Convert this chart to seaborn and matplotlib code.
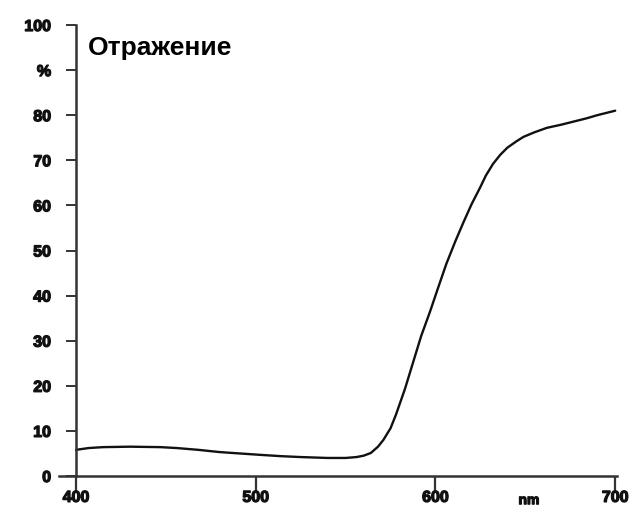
import matplotlib
matplotlib.use("Agg")
import matplotlib.pyplot as plt
import matplotlib.transforms as mtransforms
import matplotlib.patheffects as pe
import seaborn as sns
import pandas as pd

wavelength = [400, 407, 415, 430, 447, 456, 468, 480, 491, 502, 514, 525, 540, 550,
              556, 560, 564, 568, 571, 575, 578, 583, 588, 592, 597, 601, 606,
              611, 615.5, 620, 625, 628, 632, 636, 640, 645, 649, 655, 662, 670,
              677, 684, 690, 700]
reflectance = [5.8, 6.2, 6.4, 6.5, 6.4, 6.2, 5.8, 5.3, 5.0, 4.7, 4.4, 4.2, 4.0, 4.0,
               4.2, 4.5, 5.1, 6.5, 8.0, 10.6, 13.6, 19.3, 25.8, 31.0, 36.5, 41.2, 47.0,
               52.0, 56.2, 60.2, 64.1, 66.6, 69.2, 71.2, 72.8, 74.2, 75.2, 76.2, 77.2, 77.9,
               78.6, 79.3, 80.0, 81.0]
x_ticks = [400, 500, 600, 700]
x_tick_labels = ["400", "500", "600", "700"]
y_ticks = [0, 10, 20, 30, 40, 50, 60, 70, 80, 90, 100]
y_tick_labels = ["0", "10", "20", "30", "40", "50", "60", "70", "80", "%", "100"]
title_text = "Отражение"
unit_text = "nm"

sns.set_style("ticks")
plt.rcParams['font.family'] = ['Liberation Sans', 'DejaVu Sans']

df = pd.DataFrame({"wl": wavelength, "r": reflectance})

fig = plt.figure(figsize=(6.42, 5.15), dpi=100)
ax = fig.add_axes([59/642, 39/515, (617-59)/642, (476-25)/515])
sns.lineplot(data=df, x="wl", y="r", ax=ax, color="#111111", linewidth=1.7,
             solid_joinstyle="round", solid_capstyle="round")

ax.set_xlim(390.5, 701)
ax.set_ylim(0, 100)
ax.spines["right"].set_visible(False)
ax.spines["top"].set_visible(False)
ax.spines["left"].set_position(("data", 400))
ax.spines["left"].set_bounds(0, 100)
for s in ("left", "bottom"):
    ax.spines[s].set_linewidth(1.8)
    ax.spines[s].set_color("#333333")

stroke = [pe.withStroke(linewidth=0.9, foreground="#111111")]
ax.set_xticks(x_ticks)
ax.set_xticklabels(x_tick_labels, fontsize=11.5, fontweight="bold", color="#111111")
ax.set_yticks(y_ticks)
ax.set_yticklabels(y_tick_labels, fontsize=11.5, fontweight="bold", color="#111111")
for lab in ax.get_xticklabels() + ax.get_yticklabels():
    lab.set_path_effects(stroke)
ax.tick_params(axis="x", length=11, width=1.6, color="#333333", pad=-1)
ax.tick_params(axis="y", length=7, width=1.4, color="#333333", pad=11)
ax.set_xlabel("")
ax.set_ylabel("")

trans = mtransforms.blended_transform_factory(ax.transData, ax.transAxes)
ax.text(652, -0.038, unit_text, transform=trans, ha="center", va="top",
        fontsize=10, fontweight="bold", color="#111111", path_effects=stroke)

ax.text(406.5, 93.3, title_text, ha="left", va="baseline", fontsize=19,
        fontweight="bold", color="#000000")

fig.savefig("out.png", dpi=100)
